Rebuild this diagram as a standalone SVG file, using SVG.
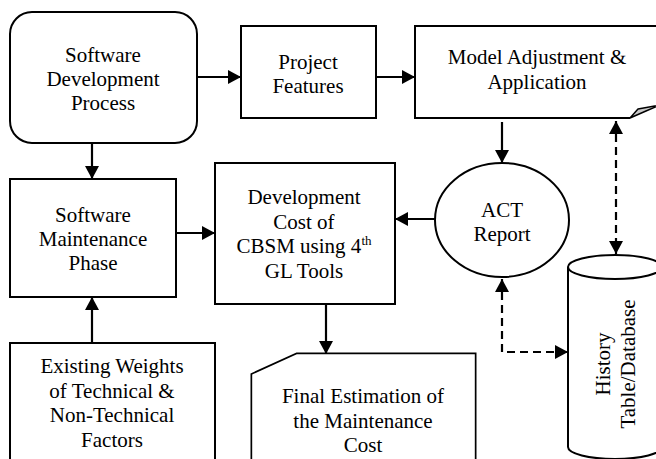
<svg xmlns="http://www.w3.org/2000/svg" width="656" height="459" viewBox="0 0 656 459">
<style>
.box{fill:#fff;stroke:#000;stroke-width:2}
.c{fill:none;stroke:#000;stroke-width:2.2}
.d{stroke-dasharray:8,5}
</style>
<defs>
<marker id="ah" markerUnits="userSpaceOnUse" markerWidth="14" markerHeight="14" refX="13" refY="7" orient="auto-start-reverse">
<path d="M0,0 L13,7 L0,14 z" fill="#000"/>
</marker>
</defs>
<rect width="656" height="459" fill="#fff"/>
<g font-family="Liberation Serif, Times New Roman, serif" font-size="21" text-anchor="middle" fill="#000">
<g id="sdp">
<rect class="box" x="10" y="12" width="187" height="131" rx="22"/>
<text x="103" y="62">Software</text>
<text x="103" y="86">Development</text>
<text x="103" y="110">Process</text>
</g>
<g id="pf">
<rect class="box" x="241" y="26" width="135" height="92"/>
<text x="308" y="69">Project</text>
<text x="308" y="93">Features</text>
</g>
<g id="ma">
<path d="M630,118 H415 V26 H662" fill="#fff" stroke="#000" stroke-width="2"/>
<path d="M630,118 L638,109 L660,105 L646,111 Z" fill="#c8c8c8" stroke="#000" stroke-width="1.5" stroke-linejoin="round"/>
<text x="537" y="64">Model Adjustment &amp;</text>
<text x="537" y="89">Application</text>
</g>
<g id="smp">
<rect class="box" x="10" y="179" width="166" height="118"/>
<text x="93" y="222">Software</text>
<text x="93" y="246">Maintenance</text>
<text x="93" y="270">Phase</text>
</g>
<g id="dev">
<rect class="box" x="215" y="163" width="180" height="141"/>
<text x="304" y="204">Development</text>
<text x="304" y="228.5">Cost of</text>
<text x="304" y="253">CBSM using 4<tspan font-size="13" dy="-8">th</tspan></text>
<text x="304" y="277.5">GL Tools</text>
</g>
<g id="act">
<ellipse class="box" cx="502" cy="220" rx="67" ry="57"/>
<text x="502" y="217">ACT</text>
<text x="502" y="241">Report</text>
</g>
<g id="ew">
<rect class="box" x="10" y="343" width="205" height="130"/>
<text x="112" y="373">Existing Weights</text>
<text x="112" y="398">of Technical &amp;</text>
<text x="112" y="422">Non-Technical</text>
<text x="112" y="447">Factors</text>
</g>
<g id="final">
<path d="M297,355 H474 V470 H253 V375 Z" fill="#fff" stroke="#000" stroke-width="5" stroke-linejoin="miter"/>
<path d="M297,355 H474 V470 H253 V375 Z" fill="#fff" stroke="#fff" stroke-width="1.6" stroke-linejoin="miter"/>
<text x="363" y="403">Final Estimation of</text>
<text x="363" y="428">the Maintenance</text>
<text x="363" y="452">Cost</text>
</g>
<g id="db">
<path d="M568,267 V447 A47,12 0 0 0 662,447 V267" fill="#fff" stroke="#000" stroke-width="2"/>
<ellipse cx="615" cy="267" rx="47" ry="12" fill="#fff" stroke="#000" stroke-width="2"/>
<text transform="translate(610,364) rotate(-90)">History</text>
<text transform="translate(635,364) rotate(-90)">Table/Database</text>
</g>
</g>
<g id="connectors">
<path class="c" d="M197,77 H241" marker-end="url(#ah)"/>
<path class="c" d="M376,77 H415" marker-end="url(#ah)"/>
<path class="c" d="M502,122 V163" marker-end="url(#ah)"/>
<path class="c" d="M92,143 V179" marker-end="url(#ah)"/>
<path class="c" d="M176,233 H215" marker-end="url(#ah)"/>
<path class="c" d="M92,343 V297" marker-end="url(#ah)"/>
<path class="c" d="M435,219 H395" marker-end="url(#ah)"/>
<path class="c" d="M326,304 V354" marker-end="url(#ah)"/>
<path class="c d" d="M616,121 V254" marker-start="url(#ah)" marker-end="url(#ah)"/>
<path class="c d" d="M502,279 V352 H568" marker-start="url(#ah)" marker-end="url(#ah)"/>
</g>
</svg>
